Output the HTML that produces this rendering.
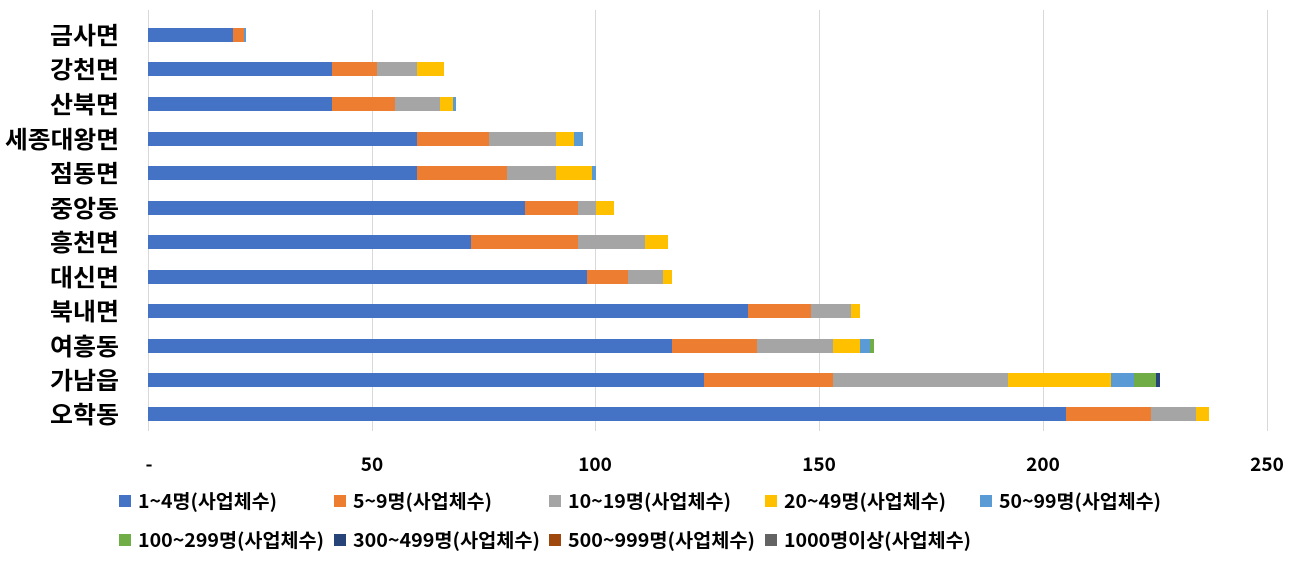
<!DOCTYPE html>
<html><head><meta charset="utf-8"><style>
body{margin:0;background:#fff}
svg text{font-family:"Noto Sans CJK KR","Liberation Sans",sans-serif;font-weight:bold;fill:#000}
</style></head><body>
<svg width="1302" height="561" xmlns="http://www.w3.org/2000/svg">
<g stroke="#d9d9d9" stroke-width="1">
<line x1="148.5" y1="10" x2="148.5" y2="431"/>
<line x1="372.5" y1="10" x2="372.5" y2="431"/>
<line x1="595.5" y1="10" x2="595.5" y2="431"/>
<line x1="819.5" y1="10" x2="819.5" y2="431"/>
<line x1="1043.5" y1="10" x2="1043.5" y2="431"/>
<line x1="1267.5" y1="10" x2="1267.5" y2="431"/>
</g>
<g font-size="24">
<text x="50" y="44" textLength="69" lengthAdjust="spacingAndGlyphs">금사면</text>
<text x="50" y="78" textLength="69" lengthAdjust="spacingAndGlyphs">강천면</text>
<text x="50" y="113" textLength="69" lengthAdjust="spacingAndGlyphs">산북면</text>
<text x="5" y="148" textLength="114" lengthAdjust="spacingAndGlyphs">세종대왕면</text>
<text x="50" y="182" textLength="69" lengthAdjust="spacingAndGlyphs">점동면</text>
<text x="50" y="217" textLength="69" lengthAdjust="spacingAndGlyphs">중앙동</text>
<text x="50" y="251" textLength="69" lengthAdjust="spacingAndGlyphs">흥천면</text>
<text x="50" y="286" textLength="69" lengthAdjust="spacingAndGlyphs">대신면</text>
<text x="50" y="320" textLength="69" lengthAdjust="spacingAndGlyphs">북내면</text>
<text x="50" y="355" textLength="69" lengthAdjust="spacingAndGlyphs">여흥동</text>
<text x="50" y="389" textLength="69" lengthAdjust="spacingAndGlyphs">가남읍</text>
<text x="50" y="423" textLength="69" lengthAdjust="spacingAndGlyphs">오학동</text>
</g>
<g>
<rect x="148" y="28" width="85" height="14" fill="#4472c4"/><rect x="233" y="28" width="11" height="14" fill="#ed7d31"/><rect x="244" y="28" width="2" height="14" fill="#5b9bd5"/>
<rect x="148" y="62" width="184" height="14" fill="#4472c4"/><rect x="332" y="62" width="45" height="14" fill="#ed7d31"/><rect x="377" y="62" width="40" height="14" fill="#a5a5a5"/><rect x="417" y="62" width="27" height="14" fill="#ffc000"/>
<rect x="148" y="97" width="184" height="14" fill="#4472c4"/><rect x="332" y="97" width="63" height="14" fill="#ed7d31"/><rect x="395" y="97" width="45" height="14" fill="#a5a5a5"/><rect x="440" y="97" width="13" height="14" fill="#ffc000"/><rect x="453" y="97" width="3" height="14" fill="#5b9bd5"/>
<rect x="148" y="132" width="269" height="14" fill="#4472c4"/><rect x="417" y="132" width="72" height="14" fill="#ed7d31"/><rect x="489" y="132" width="67" height="14" fill="#a5a5a5"/><rect x="556" y="132" width="18" height="14" fill="#ffc000"/><rect x="574" y="132" width="9" height="14" fill="#5b9bd5"/>
<rect x="148" y="166" width="269" height="14" fill="#4472c4"/><rect x="417" y="166" width="90" height="14" fill="#ed7d31"/><rect x="507" y="166" width="49" height="14" fill="#a5a5a5"/><rect x="556" y="166" width="36" height="14" fill="#ffc000"/><rect x="592" y="166" width="4" height="14" fill="#5b9bd5"/>
<rect x="148" y="201" width="377" height="14" fill="#4472c4"/><rect x="525" y="201" width="53" height="14" fill="#ed7d31"/><rect x="578" y="201" width="18" height="14" fill="#a5a5a5"/><rect x="596" y="201" width="18" height="14" fill="#ffc000"/>
<rect x="148" y="235" width="323" height="14" fill="#4472c4"/><rect x="471" y="235" width="107" height="14" fill="#ed7d31"/><rect x="578" y="235" width="67" height="14" fill="#a5a5a5"/><rect x="645" y="235" width="23" height="14" fill="#ffc000"/>
<rect x="148" y="270" width="439" height="14" fill="#4472c4"/><rect x="587" y="270" width="41" height="14" fill="#ed7d31"/><rect x="628" y="270" width="35" height="14" fill="#a5a5a5"/><rect x="663" y="270" width="9" height="14" fill="#ffc000"/>
<rect x="148" y="304" width="600" height="14" fill="#4472c4"/><rect x="748" y="304" width="63" height="14" fill="#ed7d31"/><rect x="811" y="304" width="40" height="14" fill="#a5a5a5"/><rect x="851" y="304" width="9" height="14" fill="#ffc000"/>
<rect x="148" y="339" width="524" height="14" fill="#4472c4"/><rect x="672" y="339" width="85" height="14" fill="#ed7d31"/><rect x="757" y="339" width="76" height="14" fill="#a5a5a5"/><rect x="833" y="339" width="27" height="14" fill="#ffc000"/><rect x="860" y="339" width="10" height="14" fill="#5b9bd5"/><rect x="870" y="339" width="4" height="14" fill="#70ad47"/>
<rect x="148" y="373" width="556" height="14" fill="#4472c4"/><rect x="704" y="373" width="129" height="14" fill="#ed7d31"/><rect x="833" y="373" width="175" height="14" fill="#a5a5a5"/><rect x="1008" y="373" width="103" height="14" fill="#ffc000"/><rect x="1111" y="373" width="23" height="14" fill="#5b9bd5"/><rect x="1134" y="373" width="22" height="14" fill="#70ad47"/><rect x="1156" y="373" width="4" height="14" fill="#264478"/>
<rect x="148" y="407" width="918" height="14" fill="#4472c4"/><rect x="1066" y="407" width="85" height="14" fill="#ed7d31"/><rect x="1151" y="407" width="45" height="14" fill="#a5a5a5"/><rect x="1196" y="407" width="13" height="14" fill="#ffc000"/>
</g>
<g font-size="19" text-anchor="middle">
<text x="149" y="471">-</text>
<text x="372" y="471">50</text>
<text x="595" y="471">100</text>
<text x="819" y="471">150</text>
<text x="1043" y="471">200</text>
<text x="1267" y="471">250</text>
</g>
<g font-size="19">
<rect x="119" y="495" width="12" height="12" fill="#4472c4"/><text x="138" y="508" textLength="139" lengthAdjust="spacingAndGlyphs">1~4명(사업체수)</text>
<rect x="334" y="495" width="12" height="12" fill="#ed7d31"/><text x="353" y="508" textLength="139" lengthAdjust="spacingAndGlyphs">5~9명(사업체수)</text>
<rect x="549" y="495" width="12" height="12" fill="#a5a5a5"/><text x="568" y="508" textLength="163" lengthAdjust="spacingAndGlyphs">10~19명(사업체수)</text>
<rect x="765" y="495" width="12" height="12" fill="#ffc000"/><text x="784" y="508" textLength="162" lengthAdjust="spacingAndGlyphs">20~49명(사업체수)</text>
<rect x="980" y="495" width="12" height="12" fill="#5b9bd5"/><text x="999" y="508" textLength="162" lengthAdjust="spacingAndGlyphs">50~99명(사업체수)</text>
<rect x="119" y="534" width="12" height="12" fill="#70ad47"/><text x="138" y="547" textLength="186" lengthAdjust="spacingAndGlyphs">100~299명(사업체수)</text>
<rect x="334" y="534" width="12" height="12" fill="#264478"/><text x="353" y="547" textLength="187" lengthAdjust="spacingAndGlyphs">300~499명(사업체수)</text>
<rect x="549" y="534" width="12" height="12" fill="#9e480e"/><text x="568" y="547" textLength="187" lengthAdjust="spacingAndGlyphs">500~999명(사업체수)</text>
<rect x="765" y="534" width="12" height="12" fill="#636363"/><text x="784" y="547" textLength="187" lengthAdjust="spacingAndGlyphs">1000명이상(사업체수)</text>
</g>
</svg>
</body></html>
